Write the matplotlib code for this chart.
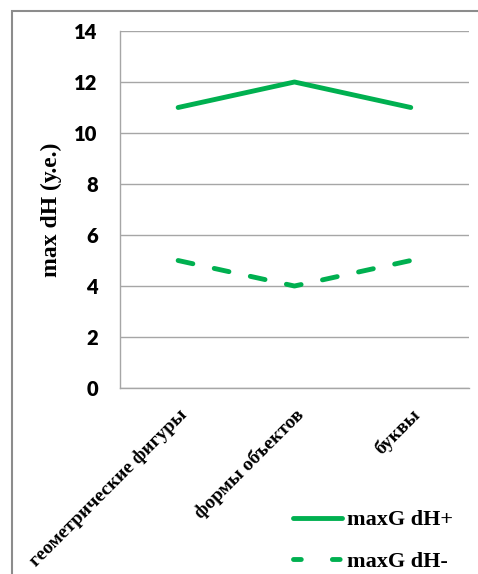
import matplotlib.pyplot as plt
from matplotlib.patches import Rectangle
from matplotlib.lines import Line2D

categories = ["геометрические фигуры", "формы объектов", "буквы"]
dh_plus = [11, 12, 11]
dh_minus = [5, 4, 5]
yticks = [0, 2, 4, 6, 8, 10, 12, 14]

green = "#00B050"
serif = "Liberation Serif"
lw = 3.5

fig = plt.figure(figsize=(4.78, 5.74), dpi=100)
ax = fig.add_axes([0.251, 0.324, 0.730, 0.622])

x = range(len(categories))
ax.plot(x, dh_plus, color=green, lw=lw, solid_capstyle="round")
ax.plot(x, dh_minus, color=green, lw=lw, dash_capstyle="round",
        dashes=(3.1, 4.5))

ax.set_xlim(-0.5, len(categories) - 0.5)
ax.set_ylim(0, 14)
ax.set_yticks(yticks)
ax.grid(axis="y", color="#A6A6A6", lw=1)
ax.set_axisbelow(True)
for s in ["top", "right"]:
    ax.spines[s].set_visible(False)
for s in ["left", "bottom"]:
    ax.spines[s].set_color("#A6A6A6")
    ax.spines[s].set_linewidth(1)

ax.tick_params(axis="y", length=0, pad=16)
ax.tick_params(axis="x", length=0, pad=13)
for lab in ax.get_yticklabels():
    lab.set_fontfamily("Lato")
    lab.set_fontweight("heavy")
    lab.set_fontsize(14.5)

ax.set_xticks(list(x))
ax.set_xticklabels(categories, rotation=45, ha="right", va="top",
                   rotation_mode="anchor", fontfamily=serif,
                   fontweight="bold", fontsize=14)

ax.set_ylabel("max dH (у.е.)", fontfamily=serif, fontweight="bold",
              fontsize=17, labelpad=9)

# legend keys
h_plus = Line2D([], [], color=green, lw=lw, solid_capstyle="round")
h_minus = Line2D([], [], color=green, lw=lw, dash_capstyle="round",
                 dashes=(1.6, 6.4))
fig.legend([h_plus, h_minus], ["maxG dH+", "maxG dH-"],
           loc="center left", bbox_to_anchor=(293 / 478, 1 - 541 / 574),
           frameon=False, prop={"family": serif, "weight": "bold", "size": 16},
           handlelength=2.2, handletextpad=0.25, labelspacing=0.95,
           borderpad=0, borderaxespad=0)

# outer chart frame
fig.add_artist(Rectangle((12 / 478, -0.1), 1.2, 1 - 11 / 574 + 0.1,
                         transform=fig.transFigure, fill=False,
                         edgecolor="#8C8C8C", lw=1.5, clip_on=False))

fig.savefig("out.png", dpi=100)
